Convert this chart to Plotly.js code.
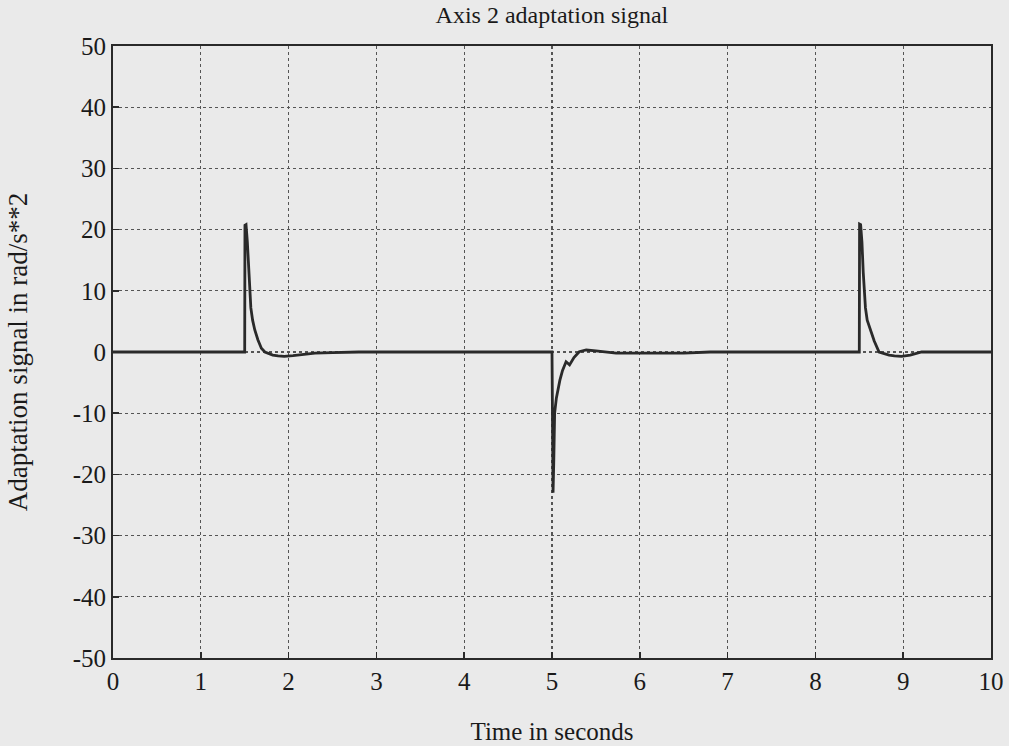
<!DOCTYPE html>
<html>
<head>
<meta charset="utf-8">
<script src="https://cdn.plot.ly/plotly-3.0.1.min.js"></script>
<style>html,body{margin:0;padding:0;background:#eaeaea;}#chart{width:1009px;height:746px;}</style>
</head>
<body>
<div id="chart"></div>
<script>
// time samples (s)
const timeSec = [0, 1.5, 1.503, 1.515, 1.53, 1.545, 1.555, 1.57, 1.59, 1.615, 1.65, 1.69, 1.73, 1.77, 1.82, 1.88, 1.95, 2.05, 2.15, 2.3, 2.5, 2.8,
  5.0, 5.004, 5.012, 5.02, 5.03, 5.05, 5.07, 5.09, 5.12, 5.16, 5.2, 5.25, 5.31, 5.39, 5.5, 5.73, 6.5, 6.8,
  8.5, 8.503, 8.515, 8.53, 8.545, 8.555, 8.57, 8.59, 8.63, 8.67, 8.725, 8.78, 8.84, 8.9, 8.98, 9.08, 9.21, 9.4, 10];
// adaptation signal (rad/s**2)
const signal = [0, 0, 20.7, 20.8, 18, 13, 9.8, 7.2, 5.2, 3.6, 2.0, 0.6, 0.0, -0.2, -0.5, -0.65, -0.7, -0.6, -0.4, -0.2, -0.1, 0,
  0, -12, -23, -18, -10, -7.5, -5.8, -4.6, -3.0, -1.6, -2.1, -0.9, 0.05, 0.33, 0.2, -0.2, -0.2, 0,
  0, 20.9, 20.8, 18, 13, 9.8, 7.2, 5.2, 3.6, 1.8, 0.0, -0.3, -0.5, -0.65, -0.7, -0.5, 0.0, 0, 0];

const yTickVals = [50, 40, 30, 20, 10, 0, -10, -20, -30, -40, -50];
const yTickText = ["50", "40", "30", "20", "10", "0", "-10", "-20", "-30", "-40", "-50"];
const xTickVals = [0, 1, 2, 3, 4, 5, 6, 7, 8, 9, 10];

const fontFam = '"Liberation Serif", "Times New Roman", serif';
const trace = {
  x: timeSec, y: signal, type: 'scatter', mode: 'lines',
  line: {color: '#2a2a2a', width: 2.8}, hoverinfo: 'skip'
};
const axisCommon = {
  showline: true, mirror: true, linecolor: '#2a2a2a', linewidth: 2,
  ticks: 'inside', ticklen: 6, tickcolor: '#2a2a2a', tickwidth: 1.5,
  showgrid: true, gridcolor: '#555', griddash: 'dot', gridwidth: 1.2,
  zeroline: false,
  tickfont: {family: fontFam, size: 25, color: '#1a1a1a'}
};
const layout = {
  width: 1009, height: 746,
  paper_bgcolor: '#eaeaea', plot_bgcolor: '#eaeaea',
  margin: {l: 113, r: 18, t: 46, b: 88},
  showlegend: false,
  title: {text: 'Axis 2 adaptation signal', font: {family: fontFam, size: 24, color: '#1a1a1a'}, x: 0.547, xanchor: 'center', y: 0.992, yanchor: 'top'},
  xaxis: Object.assign({}, axisCommon, {
    range: [0, 10], tickvals: xTickVals, ticktext: xTickVals.map(String),
    title: {text: 'Time in seconds', font: {family: fontFam, size: 25, color: '#1a1a1a'}, standoff: 28}
  }),
  yaxis: Object.assign({}, axisCommon, {
    range: [-50, 50], tickvals: yTickVals, ticktext: yTickText,
    title: {text: 'Adaptation signal in rad/s**2', font: {family: fontFam, size: 27, color: '#1a1a1a'}, standoff: 37}
  })
};
Plotly.newPlot('chart', [trace], layout, {displayModeBar: false, staticPlot: true});
</script>
</body>
</html>
